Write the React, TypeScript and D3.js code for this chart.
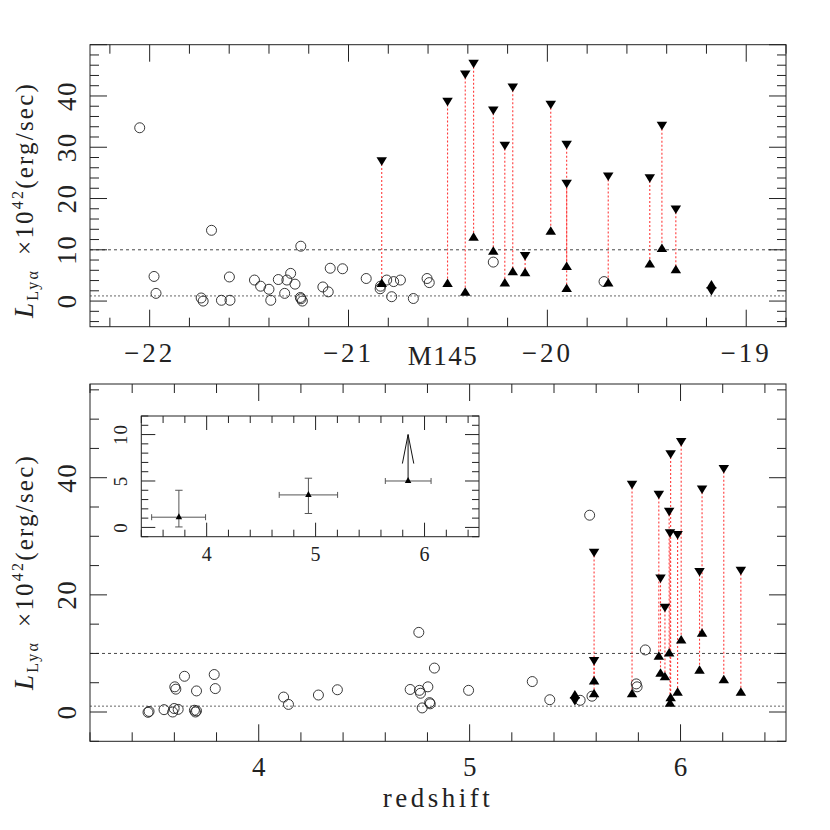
import React from "react";
import * as d3 from "d3";

// ---- top panel: L(Lya) against M145 ----
const topCircM = [-22.05, -21.978, -21.968, -21.741, -21.731, -21.689, -21.639, -21.599, -21.596, -21.473, -21.442, -21.4, -21.391, -21.353, -21.321, -21.31, -21.291, -21.269, -21.242, -21.239, -21.232, -21.24, -21.129, -21.102, -21.092, -21.03, -20.911, -20.841, -20.839, -20.808, -20.773, -20.739, -20.783, -20.674, -20.605, -20.594, -20.272, -19.715];
const topCircL = [33.8, 4.8, 1.5, 0.6, 0.0, 13.8, 0.15, 4.7, 0.15, 4.1, 2.9, 2.3, 0.15, 4.2, 1.5, 4.1, 5.4, 3.3, 0.7, 0.45, 0.0, 10.7, 2.75, 1.8, 6.4, 6.3, 4.4, 2.4, 2.9, 4.1, 3.8, 4.1, 0.85, 0.5, 4.4, 3.6, 7.6, 3.8];
const topPairM = [-20.833, -20.502, -20.413, -20.371, -20.272, -20.214, -20.174, -20.112, -19.983, -19.903, -19.903, -19.694, -19.485, -19.424, -19.354, -19.175];
const topPairUp = [27.5, 39.1, 44.4, 46.5, 37.4, 30.5, 41.9, 9.0, 38.5, 30.7, 23.1, 24.5, 24.2, 34.4, 18.1, 2.2];
const topPairLo = [3.3, 3.3, 1.6, 12.3, 9.6, 3.4, 5.6, 5.4, 13.5, 6.6, 2.3, 3.4, 7.1, 10.1, 6.0, 3.0];

// ---- bottom panel: L(Lya) against redshift ----
const botCircZ = [3.475, 3.48, 3.551, 3.592, 3.599, 3.618, 3.602, 3.607, 3.648, 3.695, 3.7, 3.705, 3.705, 3.789, 3.794, 4.118, 4.141, 4.283, 4.373, 4.718, 4.759, 4.762, 4.767, 4.802, 4.775, 4.81, 4.813, 4.833, 4.995, 5.297, 5.38, 5.524, 5.58, 5.569, 5.79, 5.794, 5.833];
const botCircL = [-0.05, 0.1, 0.4, 0.0, 0.6, 0.45, 4.3, 3.9, 6.1, 0.3, 0.0, 0.2, 3.6, 6.4, 4.0, 2.55, 1.3, 2.9, 3.8, 3.85, 13.6, 3.7, 3.2, 4.3, 0.7, 1.6, 1.4, 7.5, 3.7, 5.2, 2.1, 2.0, 2.7, 33.6, 4.8, 4.3, 10.6];
const botPairZ = [5.59, 5.59, 5.77, 5.897, 5.905, 5.926, 5.953, 5.946, 5.95, 5.986, 6.003, 6.09, 6.102, 6.205, 6.286, 5.499];
const botPairUp = [27.4, 8.9, 39.0, 37.3, 23.0, 18.0, 44.2, 34.4, 30.7, 30.4, 46.3, 24.1, 38.2, 41.7, 24.3, 2.1];
const botPairLo = [3.0, 5.2, 3.0, 9.4, 6.5, 5.9, 2.3, 9.95, 1.4, 3.25, 12.2, 7.0, 13.35, 5.4, 3.25, 2.8];

// ---- inset: binned means ----
const insetZ = [3.745, 4.934, 5.849];
const insetL = [1.1, 3.5, 5.0];
const insetZLo = [3.495, 4.666, 5.64];
const insetZHi = [3.99, 5.202, 6.06];
const insetLLo = [0.05, 1.5, 5.0];
const insetLHi = [4.0, 5.3, 10.0];
const insetArrow = [false, false, true];

const refLines = [1, 10];

const topXLabels = [-22, -21, -20, -19];
const topYLabels = [0, 10, 20, 30, 40];
const botXLabels = [4, 5, 6];
const botYLabels = [0, 20, 40];
const insetXLabels = [4, 5, 6];
const insetYLabels = [0, 5, 10];

const FONT = "Liberation Serif";
const INK = "#222";

const ticksIn = (dom: number[], step: number) =>
  d3.range(Math.ceil(dom[0] / step - 1e-9), Math.floor(dom[1] / step + 1e-9) + 1).map((k) => +(k * step).toFixed(6));
const isMajor = (v: number, major: number) => Math.abs(v / major - Math.round(v / major)) < 1e-6;

function Frame({ x, y, xMinor, xMajor, yMinor, yMajor, big, small }: any) {
  const [x0, x1] = x.range();
  const [y1, y0] = y.range();
  const out: any[] = [];
  ticksIn(x.domain(), xMinor).forEach((v, i) => {
    const len = isMajor(v, xMajor) ? big : small;
    const px = x(v);
    out.push(<line key={"xb" + i} x1={px} x2={px} y1={y1} y2={y1 - len} />);
    out.push(<line key={"xt" + i} x1={px} x2={px} y1={y0} y2={y0 + len} />);
  });
  ticksIn(y.domain(), yMinor).forEach((v, i) => {
    const len = isMajor(v, yMajor) ? big : small;
    const py = y(v);
    out.push(<line key={"yl" + i} x1={x0} x2={x0 + len} y1={py} y2={py} />);
    out.push(<line key={"yr" + i} x1={x1} x2={x1 - len} y1={py} y2={py} />);
  });
  return (
    <g stroke={INK} strokeWidth={1} fill="none">
      {out}
      <rect x={x0} y={y0} width={x1 - x0} height={y1 - y0} />
    </g>
  );
}

const triPath = (cx: number, cy: number, up: boolean, w = 10.5, h = 8.5) => {
  const s = up ? 1 : -1;
  return `M${cx},${cy - (s * 2 * h) / 3}L${cx + w / 2},${cy + (s * h) / 3}L${cx - w / 2},${cy + (s * h) / 3}Z`;
};

function Scatter({ x, y, cx, cy, px, pUp, pLo }: any) {
  return (
    <g>
      {px.map((v: number, i: number) => (
        <line key={"d" + i} x1={x(v)} x2={x(v)} y1={y(pUp[i])} y2={y(pLo[i])} stroke="#ff3b3b" strokeWidth={1.1} strokeDasharray="2,2" />
      ))}
      {cx.map((v: number, i: number) => (
        <circle key={"c" + i} cx={x(v)} cy={y(cy[i])} r={5} fill="none" stroke={INK} strokeWidth={0.9} />
      ))}
      {px.map((v: number, i: number) => (
        <g key={"t" + i} fill="#000">
          <path d={triPath(x(v), y(pUp[i]), false)} />
          <path d={triPath(x(v), y(pLo[i]), true)} />
        </g>
      ))}
    </g>
  );
}

function RefLines({ x, y }: any) {
  const [x0, x1] = x.range();
  return (
    <g>
      {refLines.map((v) => (
        <line key={v} x1={x0} x2={x1} y1={y(v)} y2={y(v)} stroke={v === 1 ? "#555" : "#333"} strokeWidth={0.9} strokeDasharray={v === 1 ? "2,2" : "3,3"} />
      ))}
    </g>
  );
}

function YTitle({ cx, cy }: any) {
  return (
    <text transform={`translate(${cx},${cy}) rotate(-90)`} textAnchor="middle" fontFamily={FONT} fill={INK} fontSize={25} letterSpacing={2.2}>
      <tspan fontStyle="italic" fontSize={27}>L</tspan>
      <tspan fontSize={16} dy={5}>Lyα</tspan>
      <tspan dy={-5} dx={14}>×10</tspan>
      <tspan fontSize={16} dy={-10}>42</tspan>
      <tspan dy={10}>(erg/sec)</tspan>
    </text>
  );
}

export default function App() {
  const left = 90, right = 786;
  const xTop = d3.scaleLinear().domain([-22.3, -18.8]).range([left, right]);
  const yTop = d3.scaleLinear().domain([-5, 50]).range([326.7, 44.7]);
  const xBot = d3.scaleLinear().domain([3.2, 6.5]).range([left, right]);
  const yBot = d3.scaleLinear().domain([-5, 56]).range([741.3, 384]);
  const xIn = d3.scaleLinear().domain([3.4, 6.5]).range([141.3, 479]);
  const yIn = d3.scaleLinear().domain([-1, 12]).range([536.7, 416]);

  const label = { fontFamily: FONT, fill: INK, textAnchor: "middle" as const };

  return (
    <svg width={830} height={830} style={{ display: "block", margin: "-8px" }}>
      <rect width={830} height={830} fill="#fff" />

      {/* top panel */}
      <RefLines x={xTop} y={yTop} />
      <Scatter x={xTop} y={yTop} cx={topCircM} cy={topCircL} px={topPairM} pUp={topPairUp} pLo={topPairLo} />
      <Frame x={xTop} y={yTop} xMinor={0.2} xMajor={1} yMinor={2} yMajor={10} big={17} small={9} />
      {topXLabels.map((v) => (
        <text key={v} x={xTop(v)} y={362} fontSize={27} letterSpacing={3} {...label}>{"\u2212" + Math.abs(v)}</text>
      ))}
      {topYLabels.map((v) => (
        <text key={v} transform={`translate(76,${yTop(v)}) rotate(-90)`} fontSize={27} letterSpacing={1.5} {...label}>{v}</text>
      ))}
      <text x={443} y={365} fontSize={27} letterSpacing={1.5} {...label}>M145</text>
      <YTitle cx={33} cy={200} />

      {/* bottom panel */}
      <RefLines x={xBot} y={yBot} />
      <Scatter x={xBot} y={yBot} cx={botCircZ} cy={botCircL} px={botPairZ} pUp={botPairUp} pLo={botPairLo} />
      <Frame x={xBot} y={yBot} xMinor={0.2} xMajor={1} yMinor={5} yMajor={20} big={17} small={9} />
      {botXLabels.map((v) => (
        <text key={v} x={xBot(v)} y={775.5} fontSize={27} {...label}>{v}</text>
      ))}
      {botYLabels.map((v) => (
        <text key={v} transform={`translate(76,${yBot(v)}) rotate(-90)`} fontSize={27} letterSpacing={1.5} {...label}>{v}</text>
      ))}
      <text x={438} y={807} fontSize={27} letterSpacing={3.5} {...label}>redshift</text>
      <YTitle cx={33} cy={572} />

      {/* inset */}
      <rect x={141.3} y={416} width={479 - 141.3} height={536.7 - 416} fill="#fff" />
      <Frame x={xIn} y={yIn} xMinor={0.2} xMajor={1} yMinor={1} yMajor={5} big={14} small={7} />
      <g stroke="#555" strokeWidth={1}>
        {insetZ.map((z, i) => (
          <g key={i}>
            <line x1={xIn(insetZLo[i])} x2={xIn(insetZHi[i])} y1={yIn(insetL[i])} y2={yIn(insetL[i])} />
            <line x1={xIn(insetZLo[i])} x2={xIn(insetZLo[i])} y1={yIn(insetL[i]) - 3} y2={yIn(insetL[i]) + 3} />
            <line x1={xIn(insetZHi[i])} x2={xIn(insetZHi[i])} y1={yIn(insetL[i]) - 3} y2={yIn(insetL[i]) + 3} />
            <line x1={xIn(z)} x2={xIn(z)} y1={yIn(insetLLo[i])} y2={yIn(insetLHi[i])} stroke={insetArrow[i] ? "#111" : "#555"} />
            {insetArrow[i] ? (
              <path d={`M${xIn(z) - 5.7},${yIn(insetLHi[i]) + 29}L${xIn(z)},${yIn(insetLHi[i])}L${xIn(z) + 5.7},${yIn(insetLHi[i]) + 29}`} fill="none" stroke="#111" />
            ) : (
              <g>
                <line x1={xIn(z) - 3.7} x2={xIn(z) + 3.7} y1={yIn(insetLLo[i])} y2={yIn(insetLLo[i])} />
                <line x1={xIn(z) - 3.7} x2={xIn(z) + 3.7} y1={yIn(insetLHi[i])} y2={yIn(insetLHi[i])} />
              </g>
            )}
            <path d={triPath(xIn(z), yIn(insetL[i]), true, 6.5, 6)} fill="#000" stroke="none" />
          </g>
        ))}
      </g>
      {insetXLabels.map((v) => (
        <text key={v} x={xIn(v)} y={561} fontSize={20} {...label}>{v}</text>
      ))}
      {insetYLabels.map((v) => (
        <text key={v} transform={`translate(127,${yIn(v)}) rotate(-90)`} fontSize={19} letterSpacing={1} {...label}>{v}</text>
      ))}
    </svg>
  );
}
